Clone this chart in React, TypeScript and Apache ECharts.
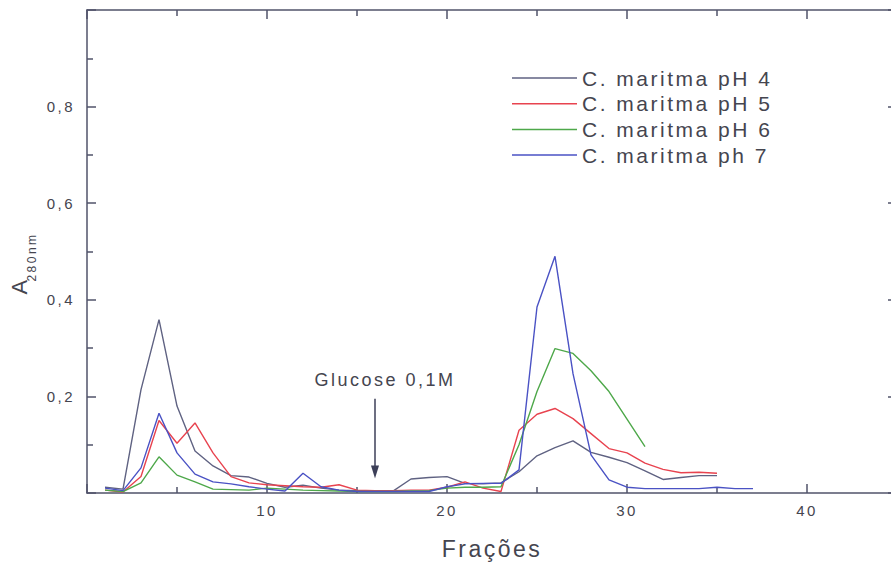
import React, { useEffect, useRef } from "react";
import * as echarts from "echarts";

const fractions = [1, 2, 3, 4, 5, 6, 7, 8, 9, 10, 11, 12, 13, 14, 15, 16, 17, 18, 19, 20, 21, 22, 23, 24, 25, 26, 27, 28, 29, 30, 31, 32, 33, 34, 35, 36, 37];

const seriesNames = ["C. maritma pH 4", "C. maritma pH 5", "C. maritma pH 6", "C. maritma ph 7"];
const seriesColors = ["#5f6282", "#e8434f", "#4ea84a", "#4a52c4"];

const valuesPH4 = [0.012, 0.008, 0.214, 0.359, 0.18, 0.087, 0.056, 0.036, 0.033, 0.02, 0.012, 0.016, 0.01, 0.006, 0.005, 0.004, 0.004, 0.029, 0.032, 0.034, 0.02, 0.019, 0.021, 0.044, 0.077, 0.094, 0.108, 0.084, 0.074, 0.063, 0.046, 0.028, 0.032, 0.036, 0.036];
const valuesPH5 = [0.006, 0.002, 0.034, 0.15, 0.103, 0.145, 0.083, 0.034, 0.021, 0.017, 0.015, 0.013, 0.012, 0.017, 0.006, 0.005, 0.005, 0.006, 0.006, 0.012, 0.023, 0.01, 0.003, 0.13, 0.163, 0.175, 0.154, 0.123, 0.092, 0.083, 0.062, 0.049, 0.042, 0.043, 0.041];
const valuesPH6 = [0.006, 0.003, 0.021, 0.075, 0.037, 0.023, 0.008, 0.007, 0.006, 0.01, 0.008, 0.006, 0.005, 0.004, 0.003, 0.003, 0.003, 0.004, 0.005, 0.01, 0.012, 0.012, 0.013, 0.1, 0.21, 0.299, 0.289, 0.253, 0.21, 0.153, 0.096];
const valuesPH7 = [0.01, 0.005, 0.052, 0.165, 0.083, 0.039, 0.023, 0.019, 0.013, 0.008, 0.004, 0.041, 0.013, 0.006, 0.003, 0.003, 0.003, 0.003, 0.003, 0.013, 0.019, 0.02, 0.02, 0.048, 0.385, 0.49, 0.247, 0.079, 0.027, 0.012, 0.009, 0.009, 0.009, 0.009, 0.012, 0.009, 0.009];

const allValues = [valuesPH4, valuesPH5, valuesPH6, valuesPH7];

// annotation
const glucoseLabel = "Glucose 0,1M";
const glucoseFraction = 16;
const arrowTop = 0.195;
const arrowBottom = 0.03;
const labelValue = 0.234;

const FONT = "'Liberation Sans', Arial, sans-serif";
const AXIS_COLOR = "#50536a";
const TEXT_COLOR = "#45454f";

export default function App() {
  const ref = useRef<HTMLDivElement>(null);

  useEffect(() => {
    if (!ref.current) return;
    const chart = echarts.init(ref.current, undefined, { renderer: "svg" });

    const axisCommon = {
      axisLine: { show: true, onZero: false, lineStyle: { color: AXIS_COLOR, width: 1.5 } },
      axisTick: { show: true, inside: true, length: 9, lineStyle: { color: AXIS_COLOR, width: 1.5 } },
      minorTick: { show: true, splitNumber: 2, length: 6, lineStyle: { color: AXIS_COLOR, width: 1.5 } },
      splitLine: { show: false },
    };

    chart.setOption({
      animation: false,
      backgroundColor: "#ffffff",
      textStyle: { fontFamily: FONT },
      grid: { left: 87, right: -6, top: 10, bottom: 73, containLabel: false, outerBoundsMode: "none" },
      legend: {
        orient: "vertical",
        left: 507,
        top: 62,
        itemWidth: 65,
        itemHeight: 22,
        itemGap: 3.7,
        icon: "path://M0,0 L65,0 L65,1.5 L0,1.5 Z",
        data: seriesNames.map((n, i) => ({ name: n, itemStyle: { color: seriesColors[i] } })),
        textStyle: { fontSize: 21, color: TEXT_COLOR, fontFamily: FONT, lineHeight: 22 },
      },
      xAxis: [
        {
          type: "value",
          min: 0,
          max: 45,
          interval: 10,
          position: "bottom",
          ...axisCommon,
          axisLabel: {
            show: true,
            margin: 10,
            fontSize: 15,
            color: TEXT_COLOR,
            fontFamily: FONT,
            formatter: (v: number) => (v > 0 && v % 10 === 0 ? String(v) : ""),
          },
          name: "Frações",
          nameLocation: "middle",
          nameGap: 44,
          nameTextStyle: { fontSize: 23, color: TEXT_COLOR, fontFamily: FONT },
        },
        {
          type: "value",
          min: 0,
          max: 45,
          interval: 10,
          position: "top",
          ...axisCommon,
          axisLabel: { show: false },
        },
      ],
      yAxis: [
        {
          type: "value",
          min: 0,
          max: 1,
          interval: 0.2,
          position: "left",
          ...axisCommon,
          axisLabel: {
            show: true,
            margin: 12,
            fontSize: 15,
            color: TEXT_COLOR,
            fontFamily: FONT,
            formatter: (v: number) => (v > 0.01 && v < 0.99 ? v.toFixed(1).replace(".", ",") : ""),
          },
        },
        {
          type: "value",
          min: 0,
          max: 1,
          interval: 0.2,
          position: "right",
          ...axisCommon,
          axisLabel: { show: false },
        },
      ],
      series: allValues.map((vals, i) => ({
        name: seriesNames[i],
        type: "line",
        symbol: "none",
        showSymbol: false,
        color: seriesColors[i],
        lineStyle: { color: seriesColors[i], width: 1.4 },
        data: vals.map((v, j) => [fractions[j], v]),
        z: 3,
      })),
    });

    const pTop = chart.convertToPixel({ gridIndex: 0 }, [glucoseFraction, arrowTop]) as number[];
    const pBot = chart.convertToPixel({ gridIndex: 0 }, [glucoseFraction, arrowBottom]) as number[];
    const pLab = chart.convertToPixel({ gridIndex: 0 }, [glucoseFraction, labelValue]) as number[];

    chart.setOption({
      graphic: [
        {
          type: "line",
          shape: { x1: pTop[0], y1: pTop[1], x2: pBot[0], y2: pBot[1] - 8 },
          style: { stroke: "#3c3f58", lineWidth: 1.5 },
          z: 10,
        },
        {
          type: "polygon",
          shape: {
            points: [
              [pBot[0] - 4, pBot[1] - 13],
              [pBot[0] + 4, pBot[1] - 13],
              [pBot[0], pBot[1]],
            ],
          },
          style: { fill: "#3c3f58" },
          z: 10,
        },
        {
          type: "text",
          x: pLab[0] + 10,
          y: pLab[1],
          style: {
            text: glucoseLabel,
            fontSize: 18,
            fontFamily: FONT,
            fill: TEXT_COLOR,
            align: "center",
            verticalAlign: "middle",
          },
          z: 10,
        },
        {
          type: "text",
          x: 19,
          y: 286,
          rotation: Math.PI / 2,
          style: {
            text: "A",
            fontSize: 22,
            fontFamily: FONT,
            fill: TEXT_COLOR,
            align: "center",
            verticalAlign: "middle",
          },
        },
        {
          type: "text",
          x: 32,
          y: 257,
          rotation: Math.PI / 2,
          style: {
            text: "280nm",
            fontSize: 12,
            fontFamily: FONT,
            fill: TEXT_COLOR,
            align: "center",
            verticalAlign: "middle",
          },
        },
      ],
    });

    return () => {
      chart.dispose();
    };
  }, []);

  return (
    <div
      ref={ref}
      style={{
        position: "fixed",
        left: 0,
        top: 0,
        width: 891,
        height: 566,
        letterSpacing: "2.5px",
      }}
    />
  );
}
